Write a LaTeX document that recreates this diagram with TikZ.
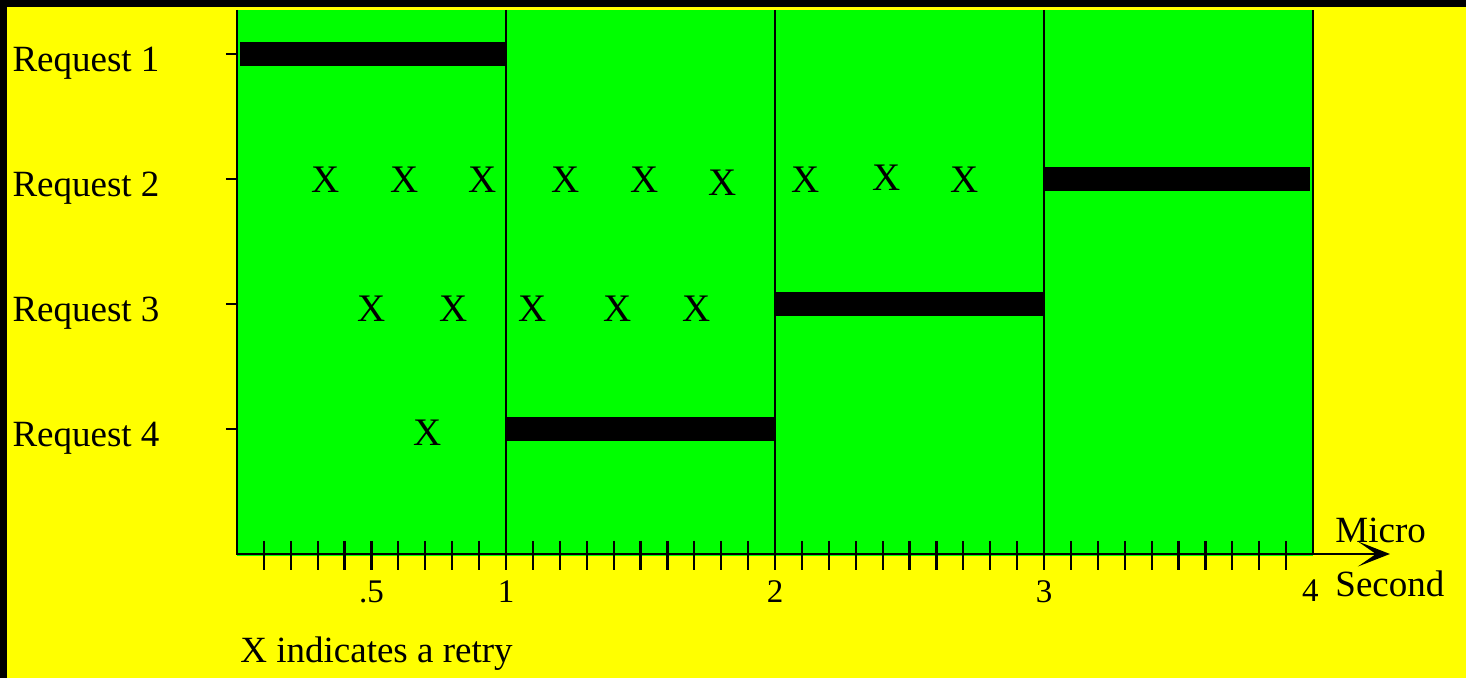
\documentclass[tikz,border=0pt]{standalone}
\usepackage{fontspec}
\setmainfont{Liberation Serif}
\usetikzlibrary{arrows.meta}
\definecolor{bgyellow}{RGB}{255,255,0}
\definecolor{fieldgreen}{RGB}{0,255,0}

\begin{document}
\begin{tikzpicture}[x=134.5pt, y=62.5pt,
	every node/.style={font=\fontsize{18.5}{22}\selectfont, inner sep=0pt},
	retry/.style={font=\fontsize{19.5}{22}\selectfont},
	scalelabel/.style={font=\fontsize{16.5}{18}\selectfont},
	busy/.style={line width=12pt},
	frame/.style={line width=1.2pt},
	tick/.style={line width=1.1pt}]
	\useasboundingbox (-118.5pt,-62pt) rectangle (614.5pt,277pt);
	\fill[bgyellow] (-118.5pt,-62pt) rectangle (614.5pt,277pt);
	\fill[black] (-118.5pt,-62pt) rectangle (-114.75pt,277pt);
	\fill[black] (-118.5pt,273.5pt) rectangle (614.5pt,277pt);
	\fill[fieldgreen] (0,-0.02) rectangle (4,4.352);
	\foreach \k in {1,...,39}
		\draw[tick] (\k/10,0.104) -- (\k/10,-0.128);
	\foreach \t in {1,2,3} {
		\draw[frame] (\t,4.352) -- (\t,-0.128);
		\node[scalelabel] (sec\t) at (\t,-0.304) {\t};
	}
	\node[scalelabel] (sec05) at (0.5,-0.304) {.5};
	\node[scalelabel] (sec4) at (3.99,-0.296) {4};
	\draw[frame] (4,0) -- (4,4.352);
	\draw[frame, -{Stealth[length=16pt, width=12.5pt, inset=9pt]}] (0,4.352) -- (0,0) -- (4.286,0);
	\node[anchor=base west] (micro) at (4.082,0.088) {Micro};
	\node[anchor=base west] (second) at (4.082,-0.344) {Second};
	\foreach \r/\n in {4/1,3/2,2/3,1/4} {
		\draw[tick] (-0.041,\r) -- (0,\r);
		\node[anchor=base west] (req\n) at (-0.836,\r-0.14) {Request \n};
	}
	\draw[busy] (0.011,4) -- (1,4);
	\draw[busy] (3,3) -- (3.99,3);
	\draw[busy] (2,2) -- (3,2);
	\draw[busy] (1,1) -- (2,1);
	\foreach \px/\py [count=\i] in {0.330/2.992, 0.623/2.992, 0.914/2.992, 1.223/2.992, 1.515/2.992, 1.806/2.970, 2.114/2.992, 2.414/3.012, 2.705/2.992}
		\node[retry] (retryb\i) at (\px,\py) {X};
	\foreach \px [count=\i] in {0.499, 0.806, 1.098, 1.416, 1.707}
		\node[retry] (retryc\i) at (\px,1.96) {X};
	\node[retry] (retryd1) at (0.71,0.968) {X};
	\node[anchor=base west] (legend) at (0.011,-0.872) {X indicates a retry};
\end{tikzpicture}
\end{document}
